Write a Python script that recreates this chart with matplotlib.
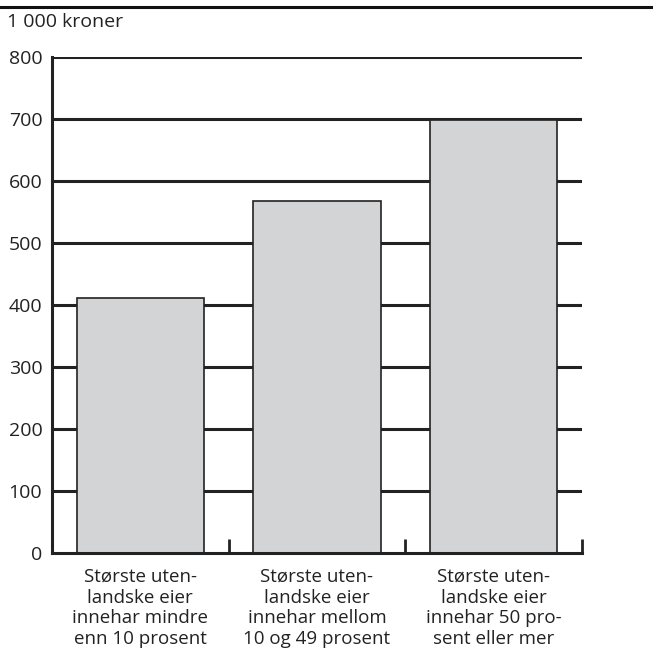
import matplotlib.pyplot as plt
import numpy as np

# data
categories = [
    "Største uten-\nlandske eier\ninnehar mindre\nenn 10 prosent",
    "Største uten-\nlandske eier\ninnehar mellom\n10 og 49 prosent",
    "Største uten-\nlandske eier\ninnehar 50 pro-\nsent eller mer",
]
values = [411, 568, 698]
yticks = [0, 100, 200, 300, 400, 500, 600, 700, 800]

plt.rcParams['font.family'] = ['Open Sans', 'DejaVu Sans']

fig = plt.figure(figsize=(6.53, 6.54), dpi=100)
ax = fig.add_axes([52 / 653, 1 - 553 / 654, 530 / 653, 496 / 654])

x = np.arange(len(values)) + 0.5
# horizontal grid lines
for y in yticks[1:]:
    ax.axhline(y, color='#222222', lw=2.2, zorder=1)
ax.bar(x, values, width=0.72, color='#d3d4d6', edgecolor='#222222',
       linewidth=1.2, zorder=2)

ax.set_xlim(0, 3)
ax.set_ylim(0, 800)
ax.set_yticks(yticks)
ax.set_yticklabels([str(v) for v in yticks], fontsize=14, color='#222222')
ax.tick_params(axis='y', length=0, pad=7)

# bottom ticks at category borders
ax.set_xticks([1, 2, 3])
ax.set_xticklabels([])
ax.tick_params(axis='x', direction='in', length=10, width=2, color='#222222')
for xi, lab in zip(x, categories):
    ax.text(xi, -24, lab, ha='center', va='top', fontsize=13.5,
            color='#222222', linespacing=1.2)

for s in ['top', 'right']:
    ax.spines[s].set_visible(False)
for s in ['left', 'bottom']:
    ax.spines[s].set_linewidth(2.2)
    ax.spines[s].set_color('#222222')

fig.text(7 / 653, 1 - 22 / 654, "1 000 kroner", fontsize=14,
         va='center', ha='left', color='#222222')
fig.add_artist(plt.Line2D([0, 1], [1 - 7 / 654, 1 - 7 / 654],
                          color='#111111', lw=2.2, transform=fig.transFigure))

fig.savefig("out.png", dpi=100)
